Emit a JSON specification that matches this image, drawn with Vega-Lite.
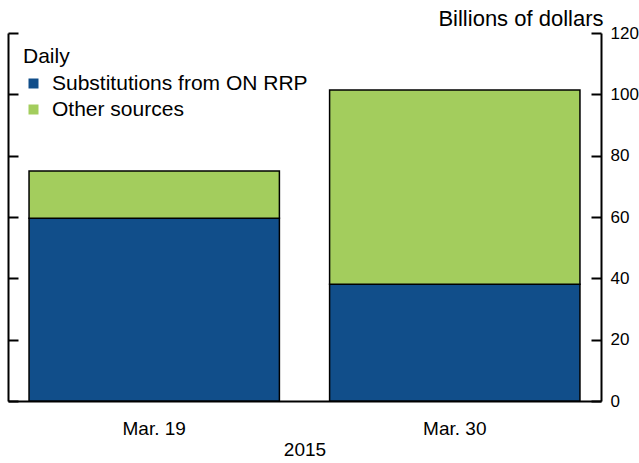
{
  "$schema": "https://vega.github.io/schema/vega-lite/v6.json",
  "width": 593,
  "height": 368,
  "autosize": {"type": "none"},
  "padding": {"left": 8, "top": 33, "right": 38, "bottom": 62},
  "background": "white",
  "config": {
    "view": {"stroke": null},
    "font": "Liberation Sans",
    "axis": {"domainColor": "black", "tickColor": "black", "labelColor": "black", "titleColor": "black", "grid": false}
  },
  "data": {
    "values": [
      {"date": "Mar. 19", "series": "Substitutions from ON RRP", "value": 59.6, "k": 1},
      {"date": "Mar. 19", "series": "Other sources", "value": 15.4, "k": 2},
      {"date": "Mar. 30", "series": "Substitutions from ON RRP", "value": 38.1, "k": 1},
      {"date": "Mar. 30", "series": "Other sources", "value": 63.3, "k": 2}
    ]
  },
  "encoding": {
    "x": {
      "field": "date", "type": "nominal",
      "scale": {"paddingInner": 0.167, "paddingOuter": 0.07},
      "axis": {"title": "2015", "labelAngle": 0, "ticks": false, "labelFontSize": 19, "labelPadding": 18, "titleFontSize": 19, "titleFontWeight": "normal", "titlePadding": 2, "domainWidth": 2}
    },
    "order": {"field": "k", "type": "quantitative"}
  },
  "layer": [
    {
      "mark": {"type": "bar", "stroke": "black", "strokeWidth": 1.5},
      "encoding": {
        "y": {
          "field": "value", "type": "quantitative", "stack": "zero",
          "scale": {"domain": [0, 120], "nice": false},
          "axis": {"orient": "right", "title": "Billions of dollars", "values": [0, 20, 40, 60, 80, 100, 120], "labelOverlap": false, "tickSize": -10, "tickWidth": 2, "domainWidth": 2, "labelPadding": 19, "labelFontSize": 17, "titleAngle": 0, "titleAlign": "right", "titleBaseline": "alphabetic", "titleX": 2, "titleY": -8, "titleFontSize": 22, "titleFontWeight": "normal"}
        },
        "color": {
          "field": "series", "type": "nominal",
          "scale": {"domain": ["Substitutions from ON RRP", "Other sources"], "range": ["#114e8a", "#a3cd5d"]},
          "legend": {
            "title": "Daily", "orient": "none", "legendX": 15, "legendY": 13,
            "titleFontSize": 21, "titleFontWeight": "normal", "titlePadding": 6,
            "labelFontSize": 21, "labelLimit": 400, "symbolType": "square", "symbolSize": 100, "symbolStrokeWidth": 0,
            "rowPadding": 4, "labelOffset": 8
          }
        }
      }
    },
    {
      "mark": {"type": "bar", "opacity": 0},
      "encoding": {
        "y": {
          "field": "value", "type": "quantitative", "stack": "zero",
          "scale": {"domain": [0, 120], "nice": false},
          "axis": {"orient": "left", "labels": false, "title": null, "values": [0, 20, 40, 60, 80, 100, 120], "tickCount": 7, "labelOverlap": false, "tickSize": -10, "tickWidth": 2, "domainWidth": 2}
        }
      }
    }
  ],
  "resolve": {"axis": {"y": "independent"}}
}
